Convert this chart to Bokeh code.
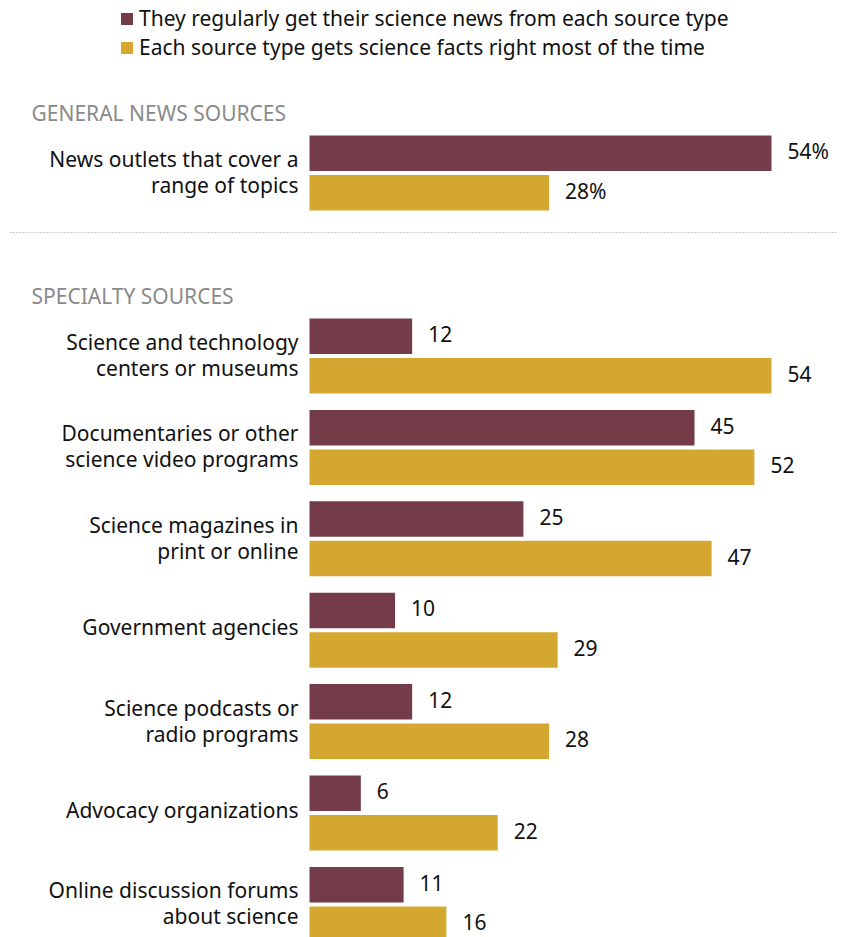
from bokeh.plotting import figure
from bokeh.models import Range1d, ColumnDataSource, Legend, LegendItem
from bokeh.core.properties import value
from bokeh.embed import file_html
from bokeh.resources import INLINE

# ---------------- data ----------------
section_titles = ["GENERAL NEWS SOURCES", "SPECIALTY SOURCES"]
general_labels = [["News outlets that cover a", "range of topics"]]
specialty_labels = [
    ["Science and technology", "centers or museums"],
    ["Documentaries or other", "science video programs"],
    ["Science magazines in", "print or online"],
    ["Government agencies"],
    ["Science podcasts or", "radio programs"],
    ["Advocacy organizations"],
    ["Online discussion forums", "about science"],
]
general_regularly = [54]
general_accurate = [28]
specialty_regularly = [12, 45, 25, 10, 12, 6, 11]
specialty_accurate = [54, 52, 47, 29, 28, 22, 16]
series_names = ["They regularly get their science news from each source type",
                "Each source type gets science facts right most of the time"]

MAROON = "#733C48"
GOLD = "#D3A730"
FONT = "Noto Sans"
FS = "21px"

# ---------------- layout ----------------
W, H = 845, 937
X0 = 309          # pixel where value 0 sits
SCALE = 462 / 54  # pixels per unit

def px2x(px):
    return (px - X0) / SCALE

BAR_H = 35.5
GAP = 4.0
gen_top = [135.0]
spec_top = [318.0 + i * 91.4 for i in range(len(specialty_labels))]

labels = general_labels + specialty_labels
tops = gen_top + spec_top
reg = general_regularly + specialty_regularly
acc = general_accurate + specialty_accurate

y_reg = [t + BAR_H / 2 for t in tops]
y_acc = [t + BAR_H + GAP + BAR_H / 2 for t in tops]
reg_txt = [f"{v}%" if i == 0 else str(v) for i, v in enumerate(reg)]
acc_txt = [f"{v}%" if i == 0 else str(v) for i, v in enumerate(acc)]

p = figure(width=W, height=H, output_backend="svg", toolbar_location=None,
           x_range=Range1d(px2x(0), px2x(W)), y_range=Range1d(H, 0),
           min_border=0, outline_line_color=None)
p.axis.visible = False
p.grid.visible = False
p.background_fill_color = "white"
p.border_fill_color = "white"

src_reg = ColumnDataSource(dict(y=y_reg, v=reg, t=reg_txt))
src_acc = ColumnDataSource(dict(y=y_acc, v=acc, t=acc_txt))

r_reg = p.hbar(y="y", left=0, right="v", height=BAR_H, source=src_reg,
               fill_color=MAROON, line_color=None)
r_acc = p.hbar(y="y", left=0, right="v", height=BAR_H, source=src_acc,
               fill_color=GOLD, line_color=None)

for src in (src_reg, src_acc):
    p.text(x="v", y="y", text="t", source=src, x_offset=16, y_offset=-2,
           text_align="left", text_baseline="middle",
           text_font=value(FONT), text_font_size=FS, text_color="#111111")

# category labels
lx, ly, lt = [], [], []
for lab, t in zip(labels, tops):
    c = t + BAR_H + GAP / 2
    if len(lab) == 2:
        offs = [-14, 12]
    else:
        offs = [-3]
    for line, o in zip(lab, offs):
        lx.append(px2x(298))
        ly.append(c + o)
        lt.append(line)
p.text(x=lx, y=ly, text=lt, text_align="right", text_baseline="middle",
       text_font=value(FONT), text_font_size=FS, text_color="#111111")

# section titles
p.text(x=[px2x(31)] * 2, y=[112, 295], text=section_titles,
       text_align="left", text_baseline="middle",
       text_font=value(FONT), text_font_size=FS, text_color="#8a8a8a")

# dotted separator
p.segment(x0=[px2x(10)], x1=[px2x(836)], y0=[232], y1=[232],
          line_color="#9a9a9a", line_width=1, line_dash="1 2")

legend = Legend(items=[LegendItem(label=series_names[0], renderers=[r_reg]),
                       LegendItem(label=series_names[1], renderers=[r_acc])],
                location=(119, H - 5 - 56), orientation="vertical",
                glyph_width=15, glyph_height=15, label_height=20,
                spacing=1, padding=0, margin=0, label_standoff=5,
                label_text_font=FONT, label_text_font_size=FS,
                label_text_color="#111111",
                border_line_color=None, background_fill_alpha=0)
p.add_layout(legend, "center")

open("out.html", "w").write(file_html(p, INLINE))
